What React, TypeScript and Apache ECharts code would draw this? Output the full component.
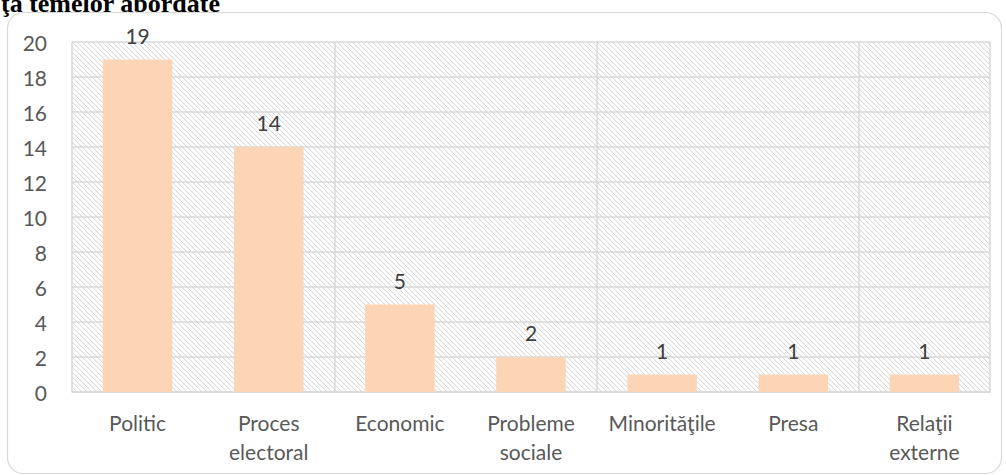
import React, { useEffect, useRef } from "react";
import * as echarts from "echarts";

const categories = ["Politic", "Proces\nelectoral", "Economic", "Probleme\nsociale", "Minorităţile", "Presa", "Relaţii\nexterne"];
const values = [19, 14, 5, 2, 1, 1, 1];
const titleText = "ţa temelor abordate";

function makeHatch(): HTMLCanvasElement {
  const c = document.createElement("canvas");
  const n = 5;
  c.width = n;
  c.height = n;
  const ctx = c.getContext("2d")!;
  ctx.fillStyle = "#ffffff";
  ctx.fillRect(0, 0, n, n);
  ctx.fillStyle = "#dadada";
  for (let i = 0; i < n; i++) ctx.fillRect(i, i, 1, 1);
  ctx.fillStyle = "#f6f6f6";
  for (let i = 0; i < n; i++) ctx.fillRect((i + 1) % n, i, 1, 1);
  return c;
}

export default function App() {
  const ref = useRef<HTMLDivElement>(null);
  useEffect(() => {
    if (!ref.current) return;
    const chart = echarts.init(ref.current, null, { renderer: "svg" });
    const font = "Lato, 'Open Sans', sans-serif";
    chart.setOption({
      animation: false,
      backgroundColor: "#ffffff",
      graphic: [
        {
          type: "rect",
          shape: { x: 7.5, y: 12.5, width: 994, height: 461, r: 16 },
          style: { fill: "none", stroke: "#d9d9d9", lineWidth: 1.2 },
          silent: true,
        },
        {
          type: "text",
          left: 1,
          top: -10,
          style: {
            text: titleText,
            font: "bold 26px 'Liberation Serif', 'Times New Roman', serif",
            fill: "#000000",
          },
        },
      ],
      grid: {
        left: 72,
        right: 16,
        top: 42,
        bottom: 83,
        show: true,
        borderWidth: 0,
        backgroundColor: { image: makeHatch(), repeat: "repeat" },
      },
      xAxis: {
        type: "category",
        data: categories,
        axisLine: { show: true, lineStyle: { color: "#d9d9d9", width: 1.5 } },
        axisTick: { show: false },
        splitLine: { show: true, interval: 1, lineStyle: { color: "#d9d9d9", width: 1.5 } },
        axisLabel: {
          color: "#595959",
          fontFamily: font,
          fontSize: 21,
          lineHeight: 29,
          margin: 16,
          interval: 0,
        },
      },
      yAxis: {
        type: "value",
        min: 0,
        max: 20,
        interval: 2,
        axisLine: { show: false },
        axisTick: { show: false },
        splitLine: { show: true, lineStyle: { color: "#d9d9d9", width: 1.5 } },
        axisLabel: { color: "#595959", fontFamily: font, fontSize: 21, margin: 25 },
      },
      series: [
        {
          type: "bar",
          data: values,
          barWidth: "53%",
          itemStyle: { color: "#FBD5B5" },
          label: {
            show: true,
            position: "top",
            color: "#404040",
            fontFamily: font,
            fontSize: 21,
            distance: 14,
          },
        },
      ],
    });
    return () => chart.dispose();
  }, []);
  return (
    <div
      ref={ref}
      style={{ position: "fixed", left: 0, top: 0, width: 1006, height: 475 }}
    />
  );
}
